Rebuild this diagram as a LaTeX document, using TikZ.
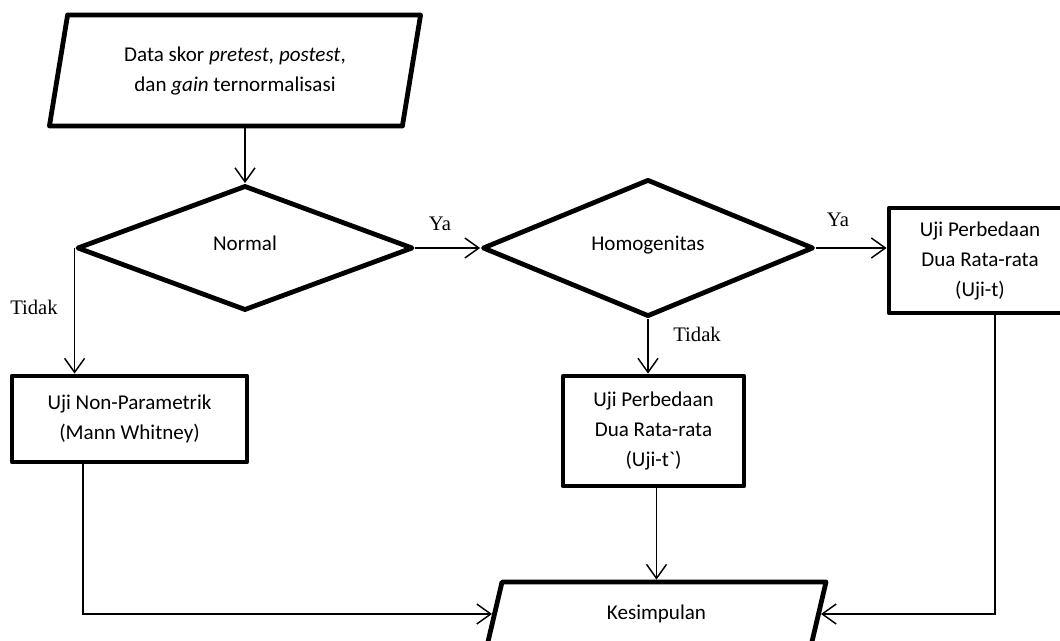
\documentclass[tikz,border=0pt]{standalone}
\usepackage{fontspec}
\setmainfont{Carlito}
\newfontfamily\calnomap{Carlito}
\newfontfamily\timesf{Liberation Serif}
\usetikzlibrary{shapes.geometric,arrows.meta}
\begin{document}
\begin{tikzpicture}[x=0.75pt,y=-0.75pt,
  txt/.style={font=\fontsize{15.8}{22.5}\selectfont,align=center,inner sep=0pt},
  box/.style={txt,draw,line width=3.6pt,line join=round,rectangle},
  dia/.style={txt,draw,line width=3.6pt,line join=round,shape=diamond,text depth=7pt},
  io/.style={txt,draw,line width=3.6pt,line join=round,shape=trapezium,trapezium stretches=true},
  arr/.style={line width=1.1pt,-{Straight Barb[length=10.5pt,width=15pt]}},
  lbl/.style={font=\timesf\fontsize{15.5}{18}\selectfont,inner sep=0pt}]
\useasboundingbox (0,0) rectangle (1060,641);
\clip (0,0) rectangle (1060,641);
\node[io,trapezium left angle=76,trapezium right angle=104,minimum width=279pt,minimum height=83.25pt] (data) at (235,70.5)
  {Data skor \textit{pretest, postest}, \\ dan \textit{gain} ternormalisasi};
\node[dia,minimum width=252pt,minimum height=93.75pt] (normal) at (245,248) {Normal};
\node[dia,minimum width=248.25pt,minimum height=93pt] (hom) at (648,248) {Homogenitas};
\node[box,minimum width=136.5pt,minimum height=78.75pt] (ujit) at (980,260.5) {Uji Perbedaan\\ Dua Rata-rata\\ (Uji-t)};
\node[box,minimum width=176.25pt,minimum height=64.5pt] (mw) at (129.5,419) {Uji Non-Parametrik\\ (Mann Whitney)};
\node[box,minimum width=135.75pt,minimum height=82.5pt] (ujitp) at (653.5,431) {Uji Perbedaan\\ Dua Rata-rata\\ (Uji-t{\calnomap`})};
\node[io,trapezium left angle=75,trapezium right angle=105,minimum width=255.75pt,minimum height=48pt] (kes) at (656.5,614) {Kesimpulan};
\draw[arr] (normal.north |- data.bottom side) -- (normal.north);
\draw[arr] (normal.east) -- (hom.west);
\draw[arr] (hom.east) -- (hom.east -| ujit.west);
\draw[arr] (normal.west) -- (normal.west |- mw.north);
\draw[arr] (hom.south) -- (hom.south |- ujitp.north);
\draw[arr] (ujitp.south -| kes.center) -- (kes.center |- kes.top side);
\draw[arr] ([xshift=-34.9pt]mw.south) |- (kes.left side);
\draw[arr] ([xshift=11.25pt]ujit.south) |- (kes.right side);
\node[lbl] (ya1) at (440,224) {Ya};
\node[lbl] (ya2) at (838,220) {Ya};
\node[lbl] (t1) at (34,307) {Tidak};
\node[lbl] (t2) at (697,334) {Tidak};
\end{tikzpicture}
\end{document}
